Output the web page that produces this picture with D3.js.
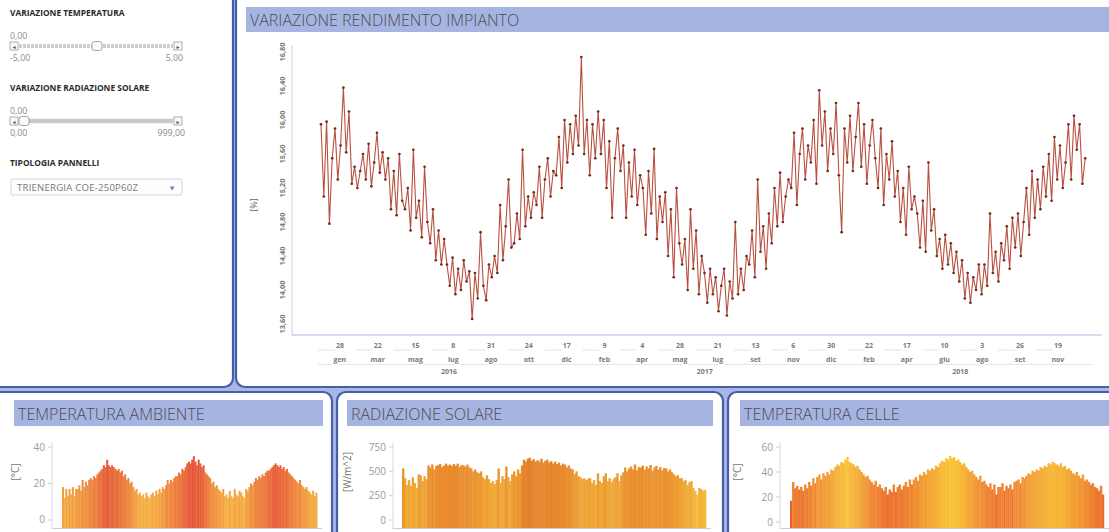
<!DOCTYPE html>
<html><head><meta charset="utf-8">
<script src="https://cdn.jsdelivr.net/npm/d3@7"></script>
<style>
html,body{margin:0;padding:0;background:#fff;}
svg{display:block;}
text{font-family:"Open Sans","DejaVu Sans",sans-serif;}
</style></head>
<body>
<svg id="c" width="1109" height="532"></svg>
<script>
// ---------------- DATA ----------------
const seriesStart = "2016-01-01";
const mainStepDays = 4;   // one reading every 4 days
const rendimento = [
 // 2016
 15.95,15.10,15.98,14.78,15.55,15.90,15.30,15.70,
 16.38,15.62,16.10,15.25,15.45,15.20,15.40,
 15.60,15.30,15.72,15.22,15.50,15.85,15.38,15.62,
 15.30,15.55,14.95,15.40,14.88,15.60,15.05,
 14.95,15.20,14.70,15.65,14.85,15.05,14.62,15.45,
 14.80,14.55,14.95,14.35,14.70,14.30,14.60,
 14.30,14.05,14.38,13.95,14.25,14.00,14.35,14.10,14.22,
 13.66,14.20,13.90,14.68,14.05,13.88,14.30,14.15,
 14.40,14.20,15.00,14.35,14.75,15.30,14.50,
 14.55,14.90,14.60,15.65,14.75,15.10,14.85,15.15,
 15.00,15.45,14.85,15.30,15.55,15.10,15.40,
 15.35,15.80,15.20,16.00,15.50,15.95,15.60,16.05,
 // 2017
 15.70,16.74,15.60,16.00,15.35,15.95,15.55,16.10,
 15.60,16.00,15.20,15.75,14.85,15.55,15.90,
 15.40,15.70,14.85,15.50,15.10,15.65,15.00,15.35,
 15.20,14.65,15.40,14.90,15.66,14.60,15.10,
 14.80,15.15,14.40,14.95,14.15,15.20,14.55,14.30,
 14.60,14.00,14.95,14.25,14.70,13.95,14.40,
 14.20,13.85,14.25,13.95,14.15,13.75,14.05,14.25,
 13.70,14.10,13.90,14.80,13.95,14.25,14.00,14.40,
 14.30,14.70,14.15,15.30,14.45,14.75,14.25,
 14.90,14.55,15.20,14.75,15.38,14.80,15.10,15.30,
 15.20,15.85,15.00,15.60,15.90,15.30,15.70,
 15.50,16.00,15.25,16.35,15.70,16.10,15.40,15.90,
 // 2018
 15.60,16.20,15.35,14.68,15.90,15.50,16.05,15.40,
 15.80,16.20,15.45,15.95,15.25,15.70,16.00,
 15.55,15.20,15.90,15.00,15.60,15.30,15.75,15.10,
 15.40,14.80,15.20,14.65,15.45,14.95,15.10,
 14.90,14.50,15.05,14.45,15.50,14.70,14.95,14.40,
 14.60,14.25,14.65,14.30,14.55,14.20,14.45,
 14.10,14.35,13.90,14.20,13.85,14.15,14.00,14.30,
 13.95,14.30,14.05,14.90,14.20,14.45,14.10,14.55,
 14.35,14.75,14.25,14.85,14.50,14.90,14.40,
 14.80,15.20,14.65,15.40,14.85,15.30,14.95,15.45,
 15.10,15.60,15.05,15.80,15.30,15.70,15.20,
 15.50,15.95,15.30,16.05,15.65,15.95,15.25,15.55
];

const weeklyStepDays = 7;
const tempAmbiente = [
 18,12,17,13,17, 14,18,13,17, 17,19,16,22, 18,21,19,22,23, 22,24,23,25, 26,27,28,30,
 29,33,30,29,30, 29,28,27,28, 26,27,24,25, 22,23,20,21,18, 16,17,14,15, 13,14,12,15,
 13,12,14,15,13, 16,14,17,15, 18,17,19,22, 20,22,21,23,24, 24,26,25,28, 27,29,31,32,
 31,33,35,32,30, 33,31,29,30, 26,25,24,23, 20,21,18,19,17, 16,15,17,13, 14,12,16,13,
 12,17,14,13,16, 15,13,12,17, 16,18,20,19, 21,23,22,24,23, 25,24,26,27, 27,28,29,30,
 31,30,29,30,28, 29,27,28,26, 25,24,23,22, 21,20,22,19,18, 17,18,16,15, 14,16,13,15
];
const radiazione = [
 530,430,360,410,350, 440,380,330,470, 460,400,450,420, 560,540,570,520,555, 565,575,545,560, 580,560,570,555,
 575,560,580,545,565, 560,550,570,540, 530,500,520,490, 480,500,440,420,460, 420,380,400,370, 410,530,380,450,
 420,550,440,400,470, 500,450,520,480, 560,620,600,630, 640,610,625,600,615, 600,630,590,610, 620,590,605,580,
 600,575,590,560,580, 570,540,560,530, 520,470,500,450, 440,420,430,410,425, 430,380,410,360, 480,400,380,450,
 480,400,430,390,420, 440,480,400,460, 490,540,500,530, 550,520,570,510,545, 540,560,515,550, 530,565,505,540,
 555,520,545,510,535, 530,500,520,490, 470,450,460,430, 430,400,410,360,390, 400,330,300,260, 330,320,300,310
];
const tempCelle = [
 17,32,27,29,26, 28,25,30,27, 32,29,35,31, 36,38,34,39,37, 40,38,42,41, 44,46,45,48,
 47,50,52,48,47, 46,44,45,42, 40,38,36,37, 34,32,30,33,28, 30,27,25,28, 22,26,24,30,
 24,28,30,26,29, 32,28,34,30, 34,36,33,38, 37,40,38,42,41, 43,42,45,44, 47,49,48,51,
 50,53,51,52,49, 50,48,46,47, 44,42,40,41, 38,36,34,37,32, 33,30,28,31, 26,30,22,28,
 28,31,25,29,27, 30,26,32,33, 34,31,36,35, 37,39,38,41,40, 42,41,44,43, 45,44,47,46,
 48,47,46,45,47, 44,45,42,43, 41,39,38,40, 37,35,38,33,34, 32,30,31,28, 27,25,29,22
];

const tickDates = ["2016-01-28","2016-03-22","2016-05-15","2016-07-08","2016-08-31","2016-10-24","2016-12-17",
 "2017-02-09","2017-04-04","2017-05-28","2017-07-21","2017-09-13","2017-11-06","2017-12-30",
 "2018-02-22","2018-04-17","2018-06-10","2018-08-03","2018-09-26","2018-11-19"];
const monthNames = ["gen","feb","mar","apr","mag","giu","lug","ago","set","ott","nov","dic"];
const yearLabels = ["2016","2017","2018"];
const yTicksMain = [13.6,14.0,14.4,14.8,15.2,15.6,16.0,16.4,16.8];

// ---------------- DRAW ----------------
const svg = d3.select("#c");
const parse = d3.utcParse("%Y-%m-%d");
const t0 = parse(seriesStart);
const dateAt = (i, step) => d3.utcDay.offset(t0, i*step);
const t1 = parse("2019-01-01");

const BORDER = "#4560aa", GAP = "#aab7e4", TITLEBG = "#a6b4e2";
svg.append("rect").attr("width",1109).attr("height",532).attr("fill",GAP);

function panel(x,y,w,h){
  svg.append("rect").attr("x",x).attr("y",y).attr("width",w).attr("height",h)
    .attr("rx",9).attr("fill","#fff").attr("stroke",BORDER).attr("stroke-width",2.2);
}
panel(-12,-12,245,399);
panel(236,-12,890,399);
panel(-12,392,344,160);
panel(337,392,386,160);
panel(728,392,400,160);

function titleBar(x,y,w,h,txt){
  svg.append("rect").attr("x",x).attr("y",y).attr("width",w).attr("height",h).attr("fill",TITLEBG);
  svg.append("text").attr("x",x+4).attr("y",y+h-6).text(txt)
    .attr("font-family","Roboto").attr("font-weight",300).attr("font-size",16).attr("fill","#4d4d4d");
}
titleBar(246,7,870,25,"VARIAZIONE RENDIMENTO IMPIANTO");
titleBar(14,400,309,26,"TEMPERATURA AMBIENTE");
titleBar(347,400,366,26,"RADIAZIONE SOLARE");
titleBar(740,400,380,26,"TEMPERATURA CELLE");

// ---- left controls ----
const lc = svg.append("g");
function bold(x,y,t){ lc.append("text").attr("x",x).attr("y",y).text(t)
  .attr("font-size",8.4).attr("font-weight",700).attr("fill","#2b2b2b"); }
function small(x,y,t,anchor){ lc.append("text").attr("x",x).attr("y",y).text(t)
  .attr("font-size",8.8).attr("fill","#8a8a8a").attr("text-anchor",anchor||"start"); }
function btn(x,y,glyph){
  lc.append("rect").attr("x",x).attr("y",y).attr("width",8).attr("height",8)
    .attr("fill","#fafafa").attr("stroke","#9a9a9a").attr("stroke-width",0.8);
  lc.append("text").attr("x",x+4).attr("y",y+6.5).attr("text-anchor","middle")
    .attr("font-size",6).attr("fill","#555").text(glyph);
}
bold(10,16,"VARIAZIONE TEMPERATURA");
small(10,39,"0,00");
btn(10,42,"◂"); btn(174,42,"▸");
lc.append("line").attr("x1",19).attr("x2",173).attr("y1",46).attr("y2",46)
  .attr("stroke","#cfcfcf").attr("stroke-width",4).attr("stroke-dasharray","3,1");
lc.append("rect").attr("x",92).attr("y",41.5).attr("width",10).attr("height",9).attr("rx",2.5)
  .attr("fill","#fbfbfb").attr("stroke","#8f8f8f").attr("stroke-width",0.8);
small(10,61,"-5,00"); small(183,61,"5,00","end");

bold(10,91,"VARIAZIONE RADIAZIONE SOLARE");
small(10,114,"0,00");
btn(10,117,"◂"); btn(174,117,"▸");
lc.append("line").attr("x1",19).attr("x2",173).attr("y1",121).attr("y2",121)
  .attr("stroke","#c9c9c9").attr("stroke-width",4.5);
lc.append("rect").attr("x",19).attr("y",116.5).attr("width",10).attr("height",9).attr("rx",2.5)
  .attr("fill","#fbfbfb").attr("stroke","#8f8f8f").attr("stroke-width",0.8);
small(10,136,"0,00"); small(185,136,"999,00","end");

bold(10,166,"TIPOLOGIA PANNELLI");
lc.append("rect").attr("x",11).attr("y",179).attr("width",171).attr("height",16).attr("rx",2)
  .attr("fill","#fdfdfd").attr("stroke","#c9c9c9").attr("stroke-width",0.8);
lc.append("text").attr("x",17).attr("y",190.5).text("TRIENERGIA COE-250P60Z")
  .attr("font-size",9.6).attr("fill","#7a7a7a").attr("textLength",121);
lc.append("text").attr("x",172).attr("y",190).text("▼").attr("text-anchor","middle")
  .attr("font-size",5.5).attr("fill","#6d7fb8");

// ---- main chart ----
const x = d3.scaleUtc().domain([t0,t1]).range([321,1088]);
const y = d3.scaleLinear().domain([13.5,16.9]).range([332.5,43.5]);
const mg = svg.append("g");
mg.append("line").attr("x1",292).attr("x2",292).attr("y1",45).attr("y2",335).attr("stroke","#c9d1ea").attr("stroke-width",1);
mg.append("line").attr("x1",292).attr("x2",1102).attr("y1",335).attr("y2",335).attr("stroke","#aebbe0").attr("stroke-width",1.2);

const fmt = v => d3.format(".2f")(v).replace(".",",");
mg.selectAll(".yt").data(yTicksMain).join("text")
  .attr("transform", d => `translate(285,${y(d)}) rotate(-90)`)
  .attr("text-anchor","middle").attr("font-family","DejaVu Sans").attr("font-weight",700)
  .attr("font-size",7.3).attr("fill","#777").text(fmt);
mg.append("text").attr("transform","translate(257,205) rotate(-90)").attr("text-anchor","middle")
  .attr("font-size",9).attr("fill","#666").text("[%]");

const pts = rendimento.map((v,i)=>({d:dateAt(i,mainStepDays), v}));
mg.append("path").datum(pts)
  .attr("d", d3.line().x(p=>x(p.d)).y(p=>y(p.v)))
  .attr("fill","none").attr("stroke","#b9503f").attr("stroke-width",1.1);
mg.selectAll(".pt").data(pts).join("circle")
  .attr("cx",p=>x(p.d)).attr("cy",p=>y(p.v)).attr("r",1.35).attr("fill","#6f2a22");

// x axis (day / month / year)
const td = tickDates.map(parse);
const xa = svg.append("g").attr("font-family","DejaVu Sans").attr("font-weight",700).attr("fill","#7a7a7a");
xa.append("line").attr("x1",318).attr("x2",1092).attr("y1",364.5).attr("y2",364.5).attr("stroke","#e6e6e6");
xa.selectAll(".dl").data(td).join("line")
  .attr("x1",d=>x(d)-22).attr("x2",d=>x(d)-5).attr("y1",350).attr("y2",350).attr("stroke","#e3e3e3");
xa.selectAll(".dt").data(td).join("text")
  .attr("x",d=>x(d)).attr("y",348).attr("text-anchor","middle").attr("font-size",7).text(d=>d.getUTCDate());
xa.selectAll(".mt").data(td).join("text")
  .attr("x",d=>x(d)).attr("y",362).attr("text-anchor","middle").attr("font-size",7)
  .attr("stroke","#fff").attr("stroke-width",3).attr("paint-order","stroke")
  .text(d=>monthNames[d.getUTCMonth()]);
xa.selectAll(".yl").data(yearLabels).join("text")
  .attr("x",d=>(x(parse(d+"-01-01"))+x(parse((+d+1)+"-01-01")))/2).attr("y",374)
  .attr("text-anchor","middle").attr("font-size",7).text(d=>d);

// ---- bottom bar charts ----
function barChart(opts){
  const g = svg.append("g");
  const xs = d3.scaleUtc().domain([t0,t1]).range([opts.x0,opts.x1]);
  const ys = d3.scaleLinear().domain([opts.ymin,opts.ymax]).range([528,447]);
  const col = d3.scaleLinear().domain(opts.cdom).range(opts.crange).clamp(true);
  g.append("line").attr("x1",opts.ax).attr("x2",opts.ax).attr("y1",442).attr("y2",529).attr("stroke","#d4d9ea");
  g.append("line").attr("x1",opts.ax).attr("x2",opts.x1+4).attr("y1",528.5).attr("y2",528.5).attr("stroke","#c5cde6");
  g.selectAll(".tk").data(opts.ticks).join("line")
    .attr("x1",opts.ax-4).attr("x2",opts.ax).attr("y1",d=>ys(d)).attr("y2",d=>ys(d)).attr("stroke","#d0d0d0");
  g.selectAll(".tl").data(opts.ticks).join("text")
    .attr("x",opts.ax-7).attr("y",d=>ys(d)+3.5).attr("text-anchor","end")
    .attr("font-family","Roboto").attr("font-size",10).attr("fill","#999").text(d=>d);
  g.append("text").attr("transform",`translate(${opts.lx},472) rotate(-90)`).attr("text-anchor","middle")
    .attr("font-family","Roboto").attr("font-size",10).attr("fill","#777").text(opts.label);
  const data = opts.values.map((v,i)=>({d:dateAt(i,weeklyStepDays), v}));
  g.selectAll(".b").data(data).join("rect")
    .attr("x",p=>xs(p.d))
    .attr("width",p=>xs(d3.utcDay.offset(p.d,weeklyStepDays))-xs(p.d)+0.4)
    .attr("y",p=>ys(p.v)).attr("height",p=>528-ys(p.v))
    .attr("fill",p=>col(p.v));
}
barChart({values:tempAmbiente,x0:62,x1:318,ax:52,ymin:-4.4,ymax:40,ticks:[0,20,40],label:"[°C]",lx:19,
  cdom:[11,33],crange:["#f7b947","#e5573a"]});
barChart({values:radiazione,x0:402,x1:707,ax:393,ymin:-82,ymax:750,ticks:[0,250,500,750],label:"[W/m^2]",lx:351,
  cdom:[260,640],crange:["#f6bf3c","#e57f2b"]});
barChart({values:tempCelle,x0:790,x1:1105,ax:780,ymin:-4.8,ymax:60,ticks:[0,20,40,60],label:"[°C]",lx:741,
  cdom:[18,52],crange:["#e95f30","#f9c63b"]});
</script>
</body></html>
